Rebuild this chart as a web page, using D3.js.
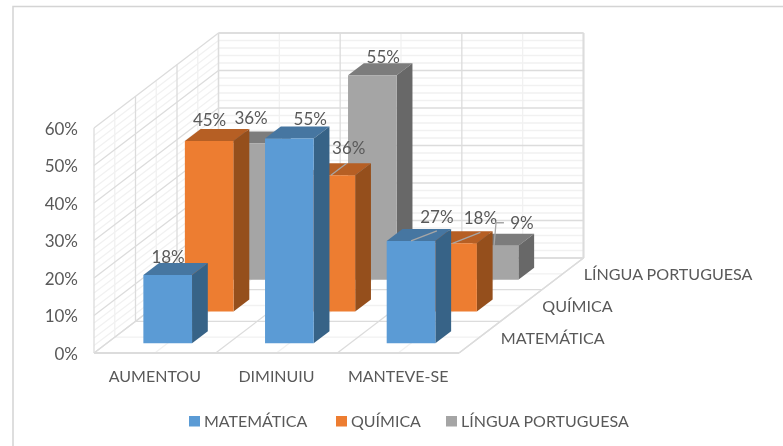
<!DOCTYPE html>
<html><head><meta charset="utf-8">
<script src="https://cdn.jsdelivr.net/npm/d3@7"></script>
<style>html,body{margin:0;padding:0;background:#fff}svg{display:block;filter:blur(0.35px)}text{font-family:Lato,"Open Sans",sans-serif;fill:#595959}</style>
</head><body><div id="c"></div>
<script>
const categories = ["AUMENTOU","DIMINUIU","MANTEVE-SE"];
const seriesNames = ["MATEMÁTICA","QUÍMICA","LÍNGUA PORTUGUESA"];
const matematica = [0.1818,0.5455,0.2727];
const quimica = [0.4545,0.3636,0.1818];
const linguaPortuguesa = [0.3636,0.5455,0.0909];
const seriesValues = [matematica,quimica,linguaPortuguesa];
const yTicks = [0,0.1,0.2,0.3,0.4,0.5,0.6];
const faceColors = [
  {front:"#5b9bd5",top:"#4676a1",side:"#376387"},
  {front:"#ed7d31",top:"#b65f24",side:"#954f1c"},
  {front:"#a5a5a5",top:"#7c7c7c",side:"#686868"}];
// label offsets from the bar's top centre, by series then category
const labelDx = [[-7.5,13,18],[-7.5,10,20],[-7.5,3,20]];
const labelDy = [[-12,-14,-18],[-15,-21,-19],[-19,-12,-17]];

const W=783,H=446;
const svg=d3.select("#c").append("svg").attr("width",W).attr("height",H);
const ox=94, oy=353, plotW=365, plotH=225, depthX=124.5, depthY=95;
const x=d3.scaleLinear().domain([0,3]).range([0,plotW]);
const y=d3.scaleLinear().domain([0,0.6]).range([0,plotH]);
const z=d3.scaleLinear().domain([0,3]).range([0,1]);
const P=(cx,v,s)=>[ox+x(cx)+depthX*z(s), oy-y(v)-depthY*z(s)];
const line=d3.line();
const barW=0.4, barPad=(1-barW)/2, zPad=0.31, zW=1-2*zPad;

// walls and floor grid
const grid=svg.append("g").attr("fill","none");
const seg=(a,b,major)=>grid.append("path").attr("d",line([a,b]))
  .attr("stroke",major?"#dcdcdc":"#f1f1f1").attr("stroke-width",1.3);
function drawGrid(major){
  d3.range(0,0.601,0.02).forEach((v,i)=>{
    if((i%5===0)!==major) return;
    seg(P(0,v,0),P(0,v,3),major); seg(P(0,v,3),P(3,v,3),major);
  });
  d3.range(0,3.01,0.5).forEach((c,i)=>{
    if((i%2===0)!==major) return;
    seg(P(c,0,3),P(c,0.6,3),major); seg(P(c,0,0),P(c,0,3),major);
  });
  d3.range(0,3.01,0.5).forEach((s,i)=>{
    if((i%2===0)!==major) return;
    seg(P(0,0,s),P(0,0.6,s),major); seg(P(0,0,s),P(3,0,s),major);
  });
}
drawGrid(false); drawGrid(true);
seg(P(0,0,0),P(3,0,0),true).attr("stroke-width",2);
seg(P(3,0,0),P(3,0,3),true).attr("stroke-width",1.5);
seg(P(3,0,3),P(3,0.6,3),true).attr("stroke-width",2);
seg(P(0,0.6,3),P(3,0.6,3),true).attr("stroke-width",1.5);

// bars, back series first
const bars=svg.append("g");
[2,1,0].forEach(s=>{
  seriesValues[s].forEach((v,c)=>{
    const x0=c+barPad,x1=c+barPad+barW,z0=s+zPad,z1=s+zPad+zW;
    const col=faceColors[s];
    const face=(pts,f)=>bars.append("path").attr("d",line(pts)+"Z").attr("fill",f);
    face([P(x0,v,z0),P(x1,v,z0),P(x1,v,z1),P(x0,v,z1)],col.top);
    face([P(x1,0,z0),P(x1,0,z1),P(x1,v,z1),P(x1,v,z0)],col.side);
    face([P(x0,0,z0),P(x1,0,z0),P(x1,v,z0),P(x0,v,z0)],col.front);
  });
});

// leader lines and data labels
const labels=svg.append("g").attr("font-size",17).attr("text-anchor","middle");
const leaders=svg.append("g").attr("fill","none").attr("stroke","#a6a6a6").attr("stroke-width",1.3);
const fmt=d3.format(".0%");
seriesValues.forEach((vals,s)=>vals.forEach((v,c)=>{
  const xc=c+0.5, zc=s+0.5;
  const t=P(xc,v,zc), f=P(xc,v,s+zPad);
  const lx=t[0]+labelDx[s][c], ly=t[1]+labelDy[s][c];
  labels.append("text").attr("x",lx).attr("y",ly).attr("dy","0.35em").text(fmt(v));
  if(c===2 && s<2) leaders.append("path").attr("d",line([f,[lx,ly+14]]));
  if(c===1 && s===1) leaders.append("path").attr("d",line([f,[lx-2,ly+15]]));
  if(c===2 && s===2) leaders.append("path").attr("d",line([f,[f[0]+2,ly],[lx-18,ly]]));
}));

// axis labels
const ax=svg.append("g").attr("font-size",16);
ax.selectAll(".yl").data(yTicks).join("text").attr("text-anchor","end").attr("font-size",17)
  .attr("x",ox-16).attr("y",d=>oy-y(d)+1).attr("dy","0.35em").text(fmt);
ax.selectAll(".xl").data(categories).join("text").attr("text-anchor","middle")
  .attr("x",(d,i)=>P(i+0.5,0,0)[0]).attr("y",oy+29).text(d=>d);
ax.selectAll(".zl").data(seriesNames).join("text").attr("text-anchor","start").attr("font-size",16.1)
  .attr("x",(d,i)=>P(3,0,i+0.5)[0]+21).attr("y",(d,i)=>P(3,0,i+0.5)[1]+1).attr("dy","0.35em").text(d=>d);

// legend
const legendX=d3.scaleOrdinal().domain(seriesNames).range([189,336,446]);
const lg=svg.append("g").attr("font-size",16);
lg.selectAll("rect").data(seriesNames).join("rect")
  .attr("x",d=>legendX(d)).attr("y",416).attr("width",11).attr("height",10.5)
  .attr("fill",(d,i)=>faceColors[i].front);
lg.selectAll("text").data(seriesNames).join("text")
  .attr("x",d=>legendX(d)+15).attr("y",421).attr("dy","0.35em").text(d=>d);

// frame
svg.append("path").attr("d",line([[13,H],[13,6.5],[W,6.5]])).attr("fill","none").attr("stroke","#d4d4d4").attr("stroke-width",1.5);
</script></body></html>
